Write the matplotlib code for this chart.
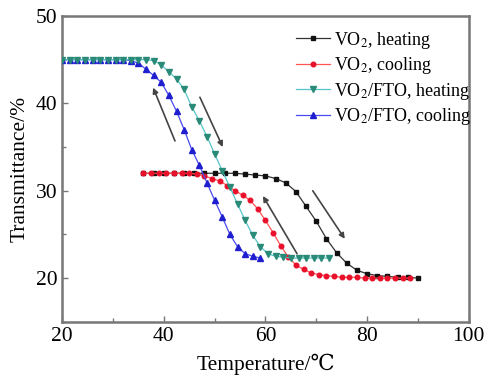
import matplotlib
matplotlib.use("Agg")
import matplotlib.pyplot as plt
from matplotlib.ticker import MultipleLocator

# ----------------------------------------------------
# Data
# ----------------------------------------------------
vo2_heat_t = [36, 38, 40, 42, 44, 46, 48, 50, 52, 54, 56, 58, 60, 62, 64,
              66, 68, 70, 72, 74, 76, 78, 80, 82, 84, 86, 88, 90]
vo2_heat_tr = [32.0, 32.0, 32.0, 32.0, 32.0, 32.0, 32.0, 32.0, 32.0, 32.0,
               31.9, 31.8, 31.7, 31.4, 30.9, 29.9, 28.2, 26.5, 24.5, 22.9,
               21.7, 20.9, 20.5, 20.3, 20.2, 20.1, 20.1, 20.0]

vo2_cool_t = [36, 37.5, 39, 40.5, 42, 43.5, 45, 46.5, 48, 49.5, 51, 52.5,
              54, 55.5, 57, 58.5, 60, 61.5, 63, 64.5, 66, 67.5, 69, 70.5,
              72, 73.5, 75, 76.5, 78, 79.5, 81, 82.5, 84, 85.5, 87, 88.5]
vo2_cool_tr = [32.0, 32.0, 32.0, 32.0, 32.0, 32.0, 32.0, 31.9, 31.7, 31.4,
               31.1, 30.6, 30.0, 29.5, 28.9, 27.9, 26.6, 25.2, 23.7, 22.4,
               21.5, 21.0, 20.6, 20.4, 20.3, 20.2, 20.1, 20.1, 20.1, 20.0,
               20.0, 20.0, 20.0, 20.0, 20.0, 20.0]

fto_heat_t = [20, 21.5, 23, 24.5, 26, 27.5, 29, 30.5, 32, 33.5, 35, 36.5,
              38, 39.5, 41, 42.5, 44, 45.5, 47, 48.5, 50, 51.5, 53, 54.5,
              56, 57.5, 59, 60.5, 62, 63.5, 65, 66.5, 68, 69.5, 71, 72.5]
fto_heat_tr = [45.0, 45.0, 45.0, 45.0, 45.0, 45.0, 45.0, 45.0, 45.0, 45.0,
               45.0, 45.0, 44.9, 44.4, 43.6, 42.8, 41.6, 39.6, 38.0, 36.2,
               34.2, 32.3, 30.4, 28.5, 26.6, 24.9, 23.6, 22.8, 22.5, 22.4,
               22.3, 22.3, 22.3, 22.3, 22.3, 22.3]

fto_cool_t = [20, 21.5, 23, 24.5, 26, 27.5, 29, 30.5, 32, 33.5, 35, 36.5,
              38, 39.5, 41, 42.5, 44, 45.5, 47, 48.5, 50, 51.5, 53, 54.5,
              56, 57.5, 59]
fto_cool_tr = [45.0, 45.0, 45.0, 45.0, 45.0, 45.0, 45.0, 45.0, 45.0, 44.9,
               44.6, 43.9, 43.2, 42.4, 40.9, 39.1, 37.0, 34.7, 32.9, 30.9,
               28.9, 27.0, 25.0, 23.6, 22.8, 22.5, 22.3]

# arrows: (tail x, tail y, head x, head y)
arrows = [
    (42.2, 35.7, 37.9, 41.8),
    (47.1, 40.7, 51.6, 35.0),
    (66.2, 22.8, 59.5, 29.4),
    (69.3, 30.0, 75.6, 24.5),
]

# ----------------------------------------------------
# Plot
# ----------------------------------------------------
plt.rcParams["font.family"] = ["Liberation Serif", "DejaVu Serif"]
plt.rcParams["mathtext.fontset"] = "stix"

fig = plt.figure(figsize=(4.93, 3.8), dpi=100)
ax = fig.add_axes([0.126, 0.153, 0.825, 0.805])

ax.plot(vo2_heat_t, vo2_heat_tr, color="#333333", lw=0.9, marker="s",
        ms=3.3, mfc="#111111", mec="#111111", label=r"VO$_2$, heating",
        zorder=2)
ax.plot(vo2_cool_t, vo2_cool_tr, color="#ff5555", lw=0.9, marker="o",
        ms=3.3, mfc="#e8102a", mec="#e8102a", label=r"VO$_2$, cooling",
        zorder=3)
ax.plot(fto_cool_t, fto_cool_tr, color="#4a4af0", lw=0.9, marker="^",
        ms=3.8, mfc="#1f1fd0", mec="#1f1fd0", label=r"VO$_2$/FTO, cooling",
        zorder=4)
ax.plot(fto_heat_t, fto_heat_tr, color="#55c4c8", lw=0.9, marker="v",
        ms=3.8, mfc="#2a8a78", mec="#2a8a78", label=r"VO$_2$/FTO, heating",
        zorder=5)

for x0, y0, x1, y1 in arrows:
    ax.annotate("", xy=(x1, y1), xytext=(x0, y0),
                arrowprops=dict(arrowstyle="-|>", color="#444444", lw=1.2,
                                mutation_scale=8, shrinkA=0, shrinkB=0),
                zorder=6)

ax.set_xlim(20, 100)
ax.set_ylim(15, 50)
ax.xaxis.set_major_locator(MultipleLocator(20))
ax.xaxis.set_minor_locator(MultipleLocator(10))
ax.yaxis.set_major_locator(MultipleLocator(10))
ax.yaxis.set_minor_locator(MultipleLocator(5))
ax.tick_params(which="both", direction="in", color="#777777", labelsize=15.5)
ax.tick_params(which="major", length=4, width=1)
ax.tick_params(which="minor", length=3, width=1)

for sp in ax.spines.values():
    sp.set_color("#777777")
    sp.set_linewidth(1.8)

ax.set_xlabel("Temperature/℃", fontsize=15.5, labelpad=6,
              family=["Liberation Serif", "DejaVu Serif"])
ax.set_ylabel("Transmittance/%", fontsize=15.5, labelpad=4)

handles, labels = ax.get_legend_handles_labels()
order = [0, 1, 3, 2]
ax.legend([handles[i] for i in order], [labels[i] for i in order],
          loc="upper right", frameon=False, fontsize=13, handlelength=1.9,
          handletextpad=0.2, labelspacing=0.25, borderaxespad=0.0,
          borderpad=0.0, bbox_to_anchor=(1.005, 0.955))

plt.savefig("out.png", dpi=100)
plt.close()
